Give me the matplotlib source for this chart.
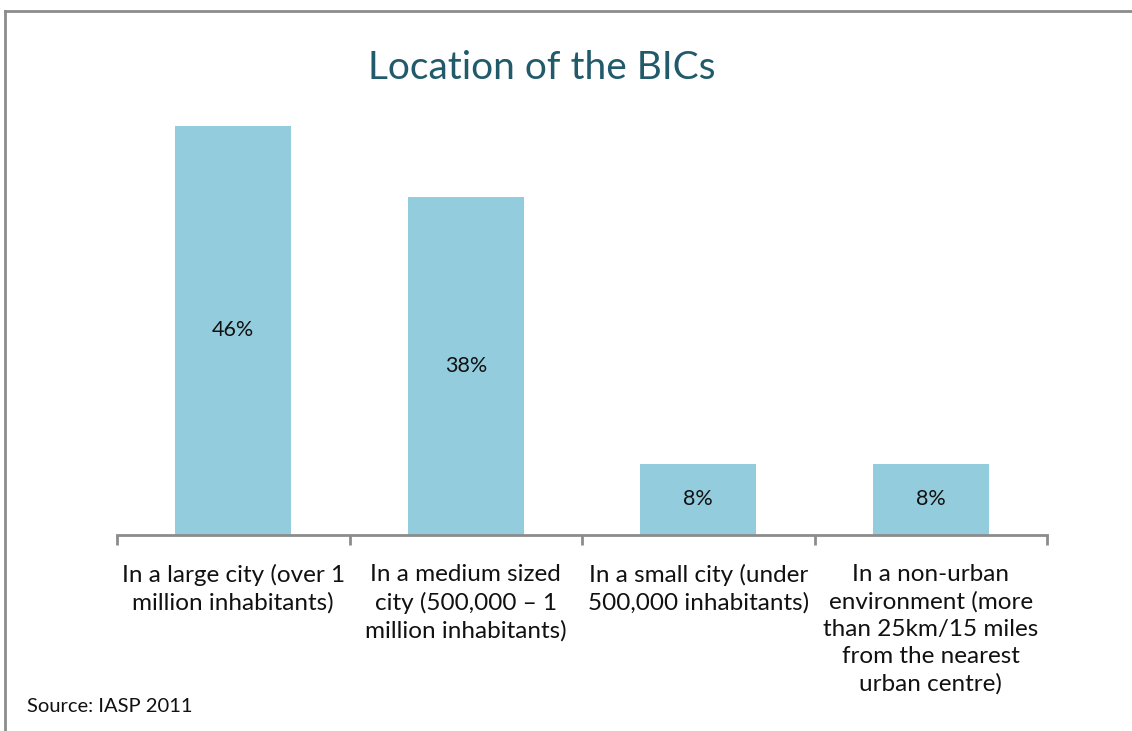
import numpy as np
import matplotlib
matplotlib.use('Agg')
from matplotlib import pyplot as plt
from matplotlib.lines import Line2D

categories = ['In a large city (over 1\nmillion inhabitants)',
              'In a medium sized\ncity (500,000 \u2013 1\nmillion inhabitants)',
              'In a small city (under\n500,000 inhabitants)',
              'In a non-urban\nenvironment (more\nthan 25km/15 miles\nfrom the nearest\nurban centre)']
values = [46, 38, 8, 8]
labels = ['46%', '38%', '8%', '8%']

plt.rcParams['font.family'] = ['Lato', 'DejaVu Sans']

fig = plt.figure(figsize=(11.32, 7.31), dpi=100)
W, H = 1132, 731
ax = fig.add_axes([117/W, 1 - 535/H, 930/W, 445/H])

x = np.arange(len(values))
bars = ax.bar(x, values, width=0.5, color='#93cddd')
for b, lab in zip(bars, labels):
    ax.text(b.get_x() + b.get_width()/2, b.get_height()/2, lab,
            ha='center', va='center', fontsize=15.5, color='#111111')

ax.set_xlim(-0.5, 3.5)
ax.set_ylim(0, 50)
ax.set_yticks([])
for s in ['top', 'right', 'left']:
    ax.spines[s].set_visible(False)
ax.spines['bottom'].set_color('#8c8c8c')
ax.spines['bottom'].set_linewidth(2)

ax.set_xticks(x)
ax.set_xticklabels(categories, fontsize=17.5, color='#111111', linespacing=1.35)
ax.tick_params(axis='x', which='major', length=0, pad=21)
ax.set_xticks(np.arange(-0.5, 4, 1), minor=True)
ax.tick_params(axis='x', which='minor', length=7, width=2, color='#8c8c8c')

fig.text(542/W, 1 - 68/H, 'Location of the BICs', ha='center', va='center',
         fontsize=28, color='#215b6b')
fig.text(27/W, 1 - 706/H, 'Source: IASP 2011', ha='left', va='center',
         fontsize=14.5, color='#111111')

# frame around the slide
fig.add_artist(Line2D([5/W, 1], [1 - 11/H, 1 - 11/H], color='#8c8c8c', lw=2))
fig.add_artist(Line2D([5/W, 5/W], [0, 1 - 11/H], color='#8c8c8c', lw=2))

fig.savefig('out.png', dpi=100)
